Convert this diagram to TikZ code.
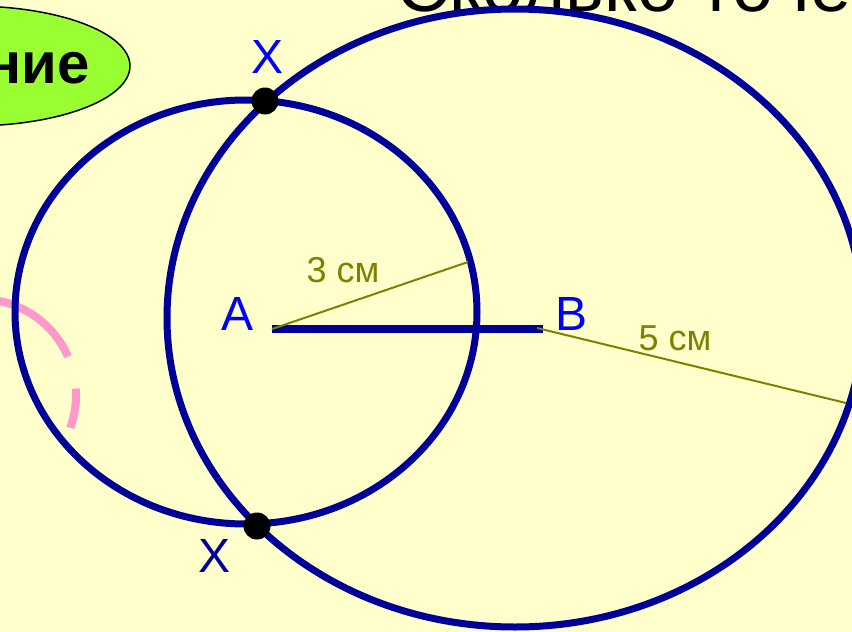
\documentclass[tikz,border=0pt]{standalone}
\usepackage{fontspec}
\setmainfont{Liberation Sans}
\usepackage{tikz}
\usetikzlibrary{positioning}
\definecolor{paper}{HTML}{FFFFCC}
\definecolor{navy}{HTML}{000099}
\definecolor{ptblue}{HTML}{0000FF}
\definecolor{sizeolive}{HTML}{808000}
\definecolor{tagfill}{HTML}{99FF33}
\definecolor{arcpink}{HTML}{FF99CC}
\tikzset{
  orbit/.style={draw=navy, line width=7pt},
  segment/.style={draw=navy, line width=7.5pt},
  radline/.style={draw=sizeolive, line width=2pt},
  ptlabel/.style={text=ptblue, inner sep=0pt, anchor=base, font=\fontsize{48}{50}\selectfont},
  sizelabel/.style={text=sizeolive, inner sep=0pt, anchor=base, font=\fontsize{36}{40}\selectfont},
  hit/.style={circle, fill=black, minimum size=27pt, inner sep=0pt},
  tagoval/.style={draw=black, line width=1.5pt, fill=tagfill},
  pinkarc/.style={draw=arcpink, line width=8pt, dash pattern=on 40pt off 33pt on 300pt off 1pt}
}

\begin{document}
\begin{tikzpicture}[x=1pt,y=-1pt]
  \fill[paper] (0,0) rectangle (852,632);
  \useasboundingbox (0,0) rectangle (852,632);
  \clip (0,0) rectangle (852,632);

  % helper arc and title pieces cut by the frame
  \coordinate (pc) at (-20,395);
  \draw[pinkarc] (pc) ++(-20:96pt) arc[start angle=-20, end angle=115, radius=96pt];
  \draw[tagoval] (-29,66) ellipse[x radius=159pt, y radius=60pt];
  \node[anchor=base east, inner sep=0pt, font=\fontsize{58}{60}\selectfont\bfseries] (tag) at (90,83) {Решение};
  \node[anchor=base west, inner sep=0pt, font=\fontsize{74}{80}\selectfont] (title) at (396,11) {Сколько точек};

  % the two circles
  \coordinate (cA) at (246,312);
  \coordinate (cB) at (515,318);
  \draw[orbit] (cA) ellipse[x radius=231pt, y radius=212pt];
  \draw[orbit] (cB) ellipse[x radius=348pt, y radius=309pt];

  % segment AB and the radii
  \coordinate (A) at (272,329);
  \coordinate (B) at (543,329);
  \coordinate (rA) at (468,262);
  \coordinate (rB) at (846,403);
  \draw[segment] (A) -- (B);
  \draw[radline] (A) -- (rA);
  \draw[radline] (537,328) -- (rB);

  \node[hit] (x1) at (265,101) {};
  \node[hit] (x2) at (257,526) {};

  \node[ptlabel] (la) at (238,330) {A};
  \node[ptlabel] (lb) at (572,330) {B};
  \node[ptlabel] (lx1) at (268,73) {X};
  \node[ptlabel, text=navy] (lx2) at (215,572) {X};
  \node[sizelabel] (l3) at (343,282) {3 см};
  \node[sizelabel] (l5) at (675,350) {5 см};
\end{tikzpicture}
\end{document}
